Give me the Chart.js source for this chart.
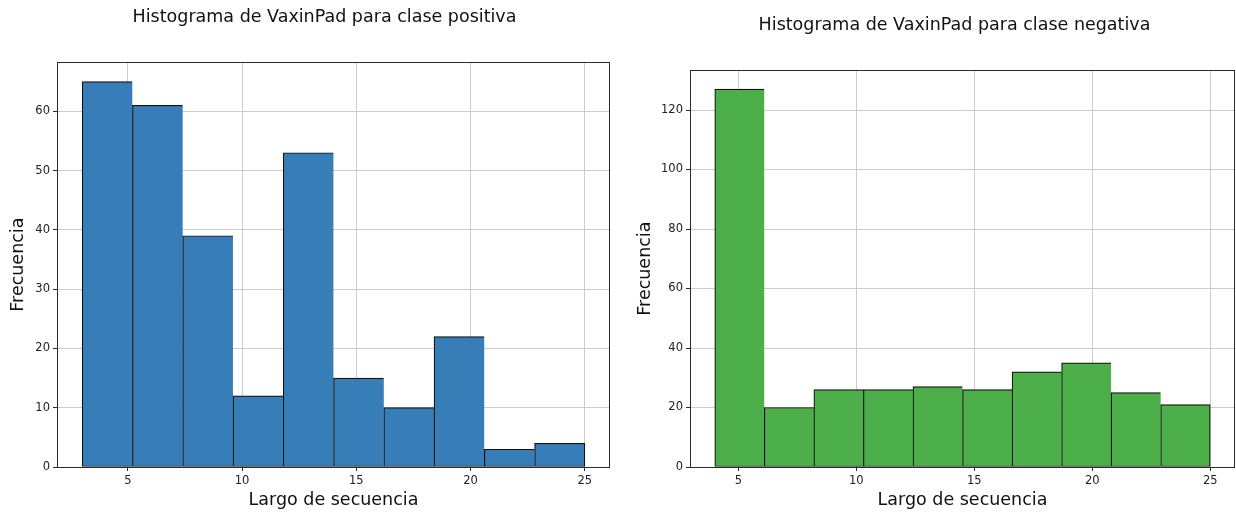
<!DOCTYPE html>
<html>
<head>
<meta charset="utf-8">
<script src="https://cdn.jsdelivr.net/npm/chart.js@4"></script>
<style>
  html, body { margin: 0; padding: 0; background: #ffffff; }
  #wrap { position: relative; width: 1236px; height: 512px; overflow: hidden; }
  .panel { position: absolute; top: 0; width: 618px; height: 512px; }
  #leftPanel { left: 0; }
  #rightPanel { left: 618px; }
</style>
</head>
<body>
<div id="wrap">
  <div class="panel" id="leftPanel"><canvas id="posChart"></canvas></div>
  <div class="panel" id="rightPanel"><canvas id="negChart"></canvas></div>
</div>
<script>
// Histogram bin edges and counts for each class
const posEdges = [3, 5.2, 7.4, 9.6, 11.8, 14, 16.2, 18.4, 20.6, 22.8, 25];
const posCounts = [65, 61, 39, 12, 53, 15, 10, 22, 3, 4];
const negEdges = [4, 6.1, 8.2, 10.3, 12.4, 14.5, 16.6, 18.7, 20.8, 22.9, 25];
const negCounts = [127, 20, 26, 26, 27, 26, 32, 35, 25, 21];

// Tick labels
const xTicks = [5, 10, 15, 20, 25];
const posYTicks = [0, 10, 20, 30, 40, 50, 60];
const negYTicks = [0, 20, 40, 60, 80, 100, 120];

const posTitle = 'Histograma de VaxinPad para clase positiva';
const negTitle = 'Histograma de VaxinPad para clase negativa';
const xLabel = 'Largo de secuencia';
const yLabel = 'Frecuencia';

const FONT = "'DejaVu Sans', 'Liberation Sans', sans-serif";
const SPINE = '#2b2b2b';
const GRID = '#cccccc';
const MARGIN = 0.05; // axis margin around the data range

// Spines on all four sides of the plot area
const framePlugin = {
  id: 'frame',
  afterDatasetsDraw(chart) {
    const a = chart.chartArea;
    const ctx = chart.ctx;
    ctx.save();
    ctx.strokeStyle = SPINE;
    ctx.lineWidth = 1;
    ctx.strokeRect(Math.round(a.left) + 0.5, Math.round(a.top) + 0.5,
                   Math.round(a.right - a.left) - 1, Math.round(a.bottom - a.top));
    ctx.restore();
  }
};

// Nudges the title block sideways after layout
function titleShiftPlugin(dx) {
  return {
    id: 'titleShift',
    afterLayout(chart) {
      const tb = chart.titleBlock;
      if (tb) { tb.left += dx; tb.right += dx; }
    }
  };
}

function makeHistogram(canvasId, edges, counts, yTicks, color, title, layout) {
  const centers = edges.slice(0, -1).map((e, i) => (e + edges[i + 1]) / 2);
  const span = edges[edges.length - 1] - edges[0];
  const xMin = edges[0] - span * MARGIN;
  const xMax = edges[edges.length - 1] + span * MARGIN;
  const yMax = Math.max(...counts) * (1 + MARGIN);
  const last = counts.length - 1;

  return new Chart(document.getElementById(canvasId), {
    type: 'bar',
    data: {
      datasets: [{
        data: centers.map((c, i) => ({ x: c, y: counts[i] })),
        backgroundColor: color,
        borderColor: '#111111',
        borderWidth: (ctx) => ({ top: 1.2, left: 1.2, bottom: 1, right: ctx.dataIndex === last ? 1.2 : 0 }),
        borderSkipped: false,
        barPercentage: 1,
        categoryPercentage: 1
      }]
    },
    options: {
      responsive: true,
      maintainAspectRatio: false,
      animation: false,
      devicePixelRatio: 1,
      layout: { padding: { left: 0, right: layout.padRight, top: 0, bottom: 0 } },
      plugins: {
        legend: { display: false },
        tooltip: { enabled: false },
        title: {
          display: true,
          fullSize: false,
          text: title,
          color: '#111111',
          font: { family: FONT, size: 17.5, weight: 'normal', lineHeight: 1.2 },
          padding: { top: layout.titleTop, bottom: layout.titleBottom }
        }
      },
      scales: {
        x: {
          type: 'linear',
          min: xMin,
          max: xMax,
          offset: false,
          afterBuildTicks: (s) => { s.ticks = xTicks.map(v => ({ value: v })); },
          afterFit: (s) => { s.height = 45; },
          grid: { color: GRID, lineWidth: 1, tickLength: 4, tickColor: SPINE, offset: false },
          border: { display: false },
          ticks: { color: '#222222', font: { family: FONT, size: 11.5 }, padding: 3, maxRotation: 0, autoSkip: false },
          title: {
            display: true, text: xLabel, color: '#111111',
            font: { family: FONT, size: 17.5, lineHeight: 1.2 },
            padding: { top: 0, bottom: 1.5 }
          }
        },
        y: {
          type: 'linear',
          min: 0,
          max: yMax,
          afterBuildTicks: (s) => { s.ticks = yTicks.map(v => ({ value: v })); },
          afterFit: (s) => { s.width = layout.yWidth; },
          grid: { color: GRID, lineWidth: 1, tickLength: 4, tickColor: SPINE },
          border: { display: false },
          ticks: { color: '#222222', font: { family: FONT, size: 11.5 }, padding: 3, autoSkip: false },
          title: {
            display: true, text: yLabel, color: '#111111',
            font: { family: FONT, size: 17.5, lineHeight: 1.2 },
            padding: { top: layout.yTitlePad, bottom: 0 }
          }
        }
      }
    },
    plugins: [framePlugin, titleShiftPlugin(layout.titleDx)]
  });
}

makeHistogram('posChart', posEdges, posCounts, posYTicks, '#377eb8', posTitle,
  { padRight: 8, titleTop: 7, titleBottom: 34.3, yWidth: 57, yTitlePad: 7.5, titleDx: -9 });
makeHistogram('negChart', negEdges, negCounts, negYTicks, '#4daf4a', negTitle,
  { padRight: 1, titleTop: 15, titleBottom: 34.3, yWidth: 72, yTitlePad: 16.5, titleDx: -8 });
</script>
</body>
</html>
